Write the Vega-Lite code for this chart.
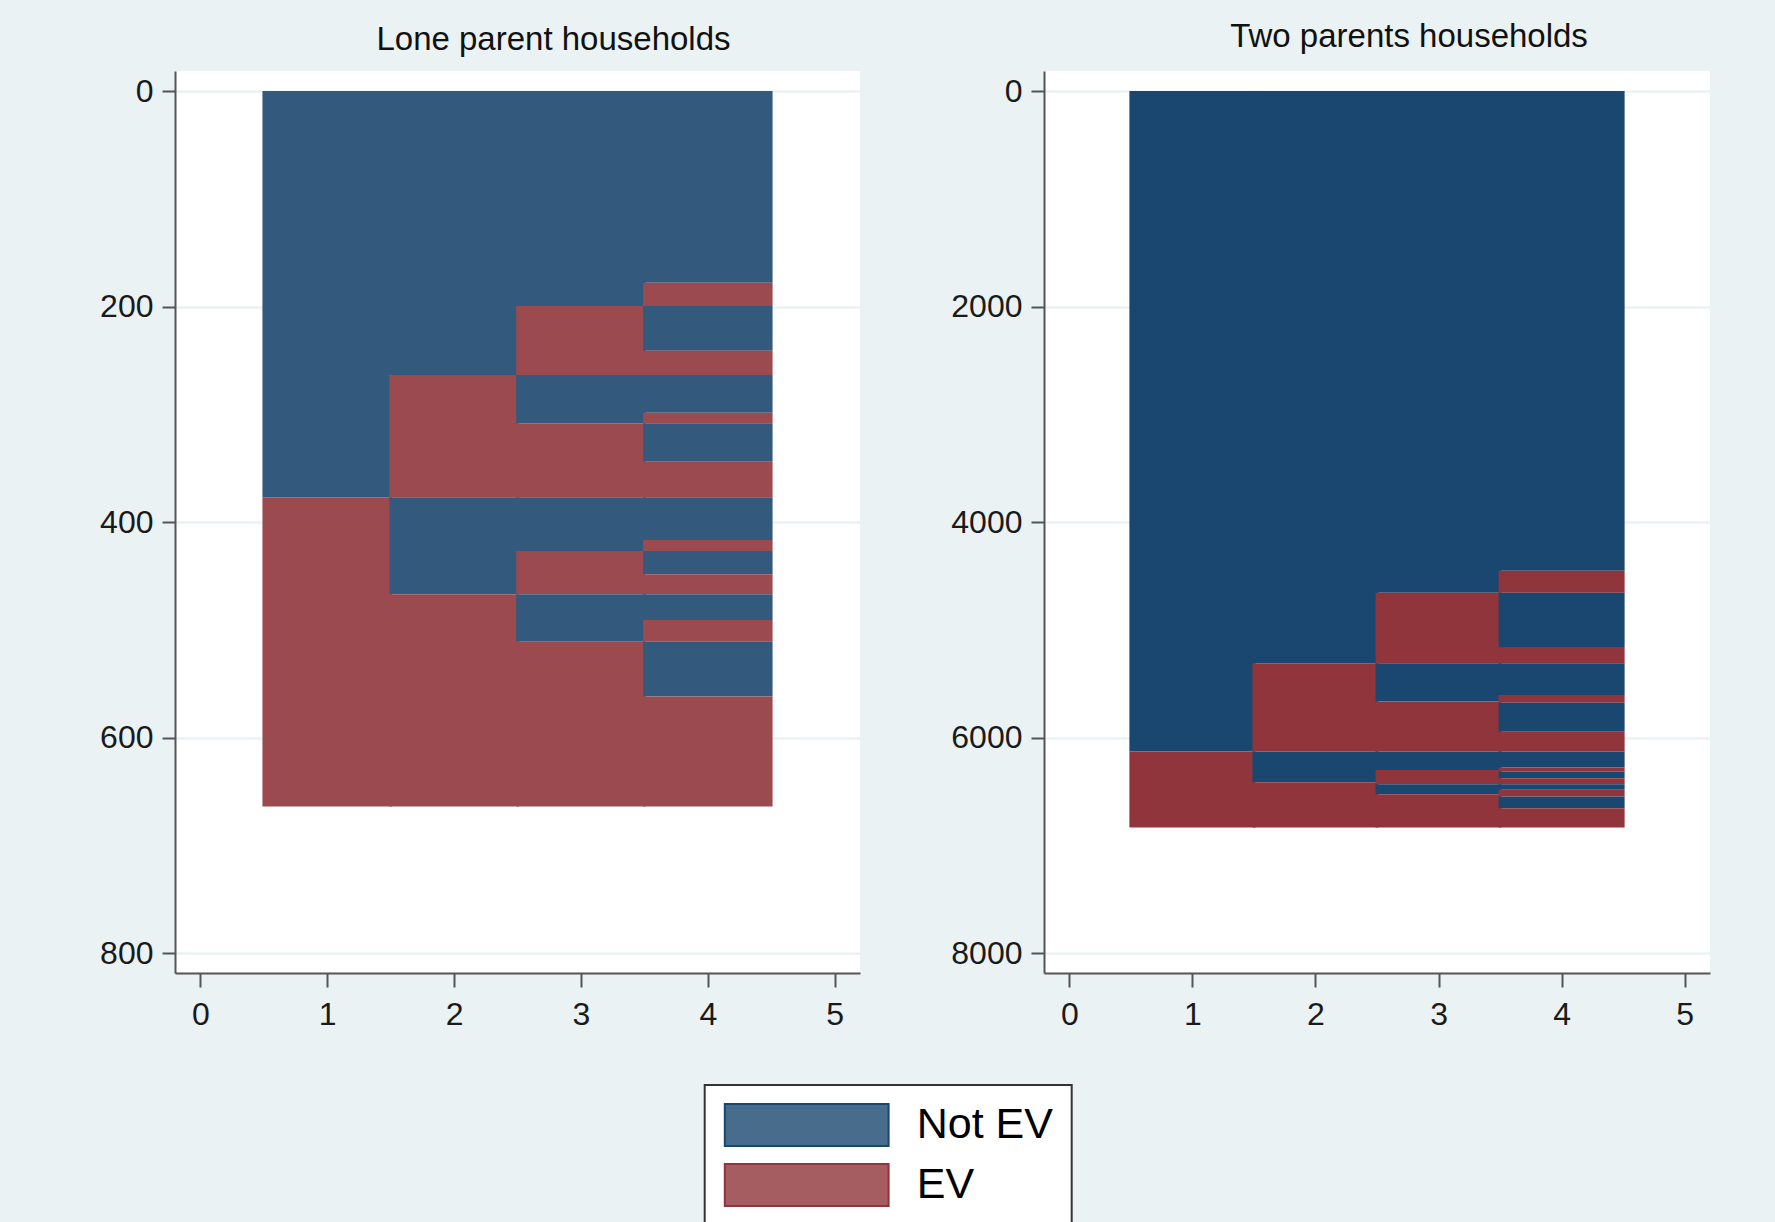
{
  "$schema": "https://vega.github.io/schema/vega-lite/v6.json",
  "background": "#eaf2f3",
  "padding": {"left": 99, "top": 21, "right": 66, "bottom": 10},
  "bounds": "flush",
  "spacing": 184,
  "datasets": {
    "lone": [
      {"wave": 1, "start": 0, "end": 377, "status": "Not EV"},
      {"wave": 1, "start": 377, "end": 664, "status": "EV"},
      {"wave": 2, "start": 0, "end": 263.5, "status": "Not EV"},
      {"wave": 2, "start": 263.5, "end": 377, "status": "EV"},
      {"wave": 2, "start": 377, "end": 467, "status": "Not EV"},
      {"wave": 2, "start": 467, "end": 664, "status": "EV"},
      {"wave": 3, "start": 0, "end": 199.5, "status": "Not EV"},
      {"wave": 3, "start": 199.5, "end": 263.5, "status": "EV"},
      {"wave": 3, "start": 263.5, "end": 308.4, "status": "Not EV"},
      {"wave": 3, "start": 308.4, "end": 377, "status": "EV"},
      {"wave": 3, "start": 377, "end": 426.8, "status": "Not EV"},
      {"wave": 3, "start": 426.8, "end": 467, "status": "EV"},
      {"wave": 3, "start": 467, "end": 511, "status": "Not EV"},
      {"wave": 3, "start": 511, "end": 664, "status": "EV"},
      {"wave": 4, "start": 0, "end": 178, "status": "Not EV"},
      {"wave": 4, "start": 178, "end": 199.5, "status": "EV"},
      {"wave": 4, "start": 199.5, "end": 241, "status": "Not EV"},
      {"wave": 4, "start": 241, "end": 263.5, "status": "EV"},
      {"wave": 4, "start": 263.5, "end": 298.5, "status": "Not EV"},
      {"wave": 4, "start": 298.5, "end": 308.4, "status": "EV"},
      {"wave": 4, "start": 308.4, "end": 344, "status": "Not EV"},
      {"wave": 4, "start": 344, "end": 377, "status": "EV"},
      {"wave": 4, "start": 377, "end": 416.6, "status": "Not EV"},
      {"wave": 4, "start": 416.6, "end": 426.8, "status": "EV"},
      {"wave": 4, "start": 426.8, "end": 448.5, "status": "Not EV"},
      {"wave": 4, "start": 448.5, "end": 467, "status": "EV"},
      {"wave": 4, "start": 467, "end": 490.8, "status": "Not EV"},
      {"wave": 4, "start": 490.8, "end": 511, "status": "EV"},
      {"wave": 4, "start": 511, "end": 562, "status": "Not EV"},
      {"wave": 4, "start": 562, "end": 664, "status": "EV"}
    ],
    "two": [
      {"wave": 1, "start": 0, "end": 6130, "status": "Not EV"},
      {"wave": 1, "start": 6130, "end": 6835, "status": "EV"},
      {"wave": 2, "start": 0, "end": 5311, "status": "Not EV"},
      {"wave": 2, "start": 5311, "end": 6130, "status": "EV"},
      {"wave": 2, "start": 6130, "end": 6415, "status": "Not EV"},
      {"wave": 2, "start": 6415, "end": 6835, "status": "EV"},
      {"wave": 3, "start": 0, "end": 4655, "status": "Not EV"},
      {"wave": 3, "start": 4655, "end": 5311, "status": "EV"},
      {"wave": 3, "start": 5311, "end": 5666, "status": "Not EV"},
      {"wave": 3, "start": 5666, "end": 6130, "status": "EV"},
      {"wave": 3, "start": 6130, "end": 6300, "status": "Not EV"},
      {"wave": 3, "start": 6300, "end": 6433, "status": "EV"},
      {"wave": 3, "start": 6433, "end": 6526, "status": "Not EV"},
      {"wave": 3, "start": 6526, "end": 6835, "status": "EV"},
      {"wave": 4, "start": 0, "end": 4453, "status": "Not EV"},
      {"wave": 4, "start": 4453, "end": 4655, "status": "EV"},
      {"wave": 4, "start": 4655, "end": 5159, "status": "Not EV"},
      {"wave": 4, "start": 5159, "end": 5311, "status": "EV"},
      {"wave": 4, "start": 5311, "end": 5604, "status": "Not EV"},
      {"wave": 4, "start": 5604, "end": 5676, "status": "EV"},
      {"wave": 4, "start": 5676, "end": 5945, "status": "Not EV"},
      {"wave": 4, "start": 5945, "end": 6130, "status": "EV"},
      {"wave": 4, "start": 6130, "end": 6278, "status": "Not EV"},
      {"wave": 4, "start": 6278, "end": 6316, "status": "EV"},
      {"wave": 4, "start": 6316, "end": 6378, "status": "Not EV"},
      {"wave": 4, "start": 6378, "end": 6433, "status": "EV"},
      {"wave": 4, "start": 6433, "end": 6485, "status": "Not EV"},
      {"wave": 4, "start": 6485, "end": 6548, "status": "EV"},
      {"wave": 4, "start": 6548, "end": 6656, "status": "Not EV"},
      {"wave": 4, "start": 6656, "end": 6835, "status": "EV"}
    ]
  },
  "config": {
    "font": "Liberation Sans",
    "view": {"fill": "white", "stroke": null},
    "axis": {
      "domainColor": "#555555",
      "domainWidth": 2,
      "tickColor": "#555555",
      "tickWidth": 2,
      "labelFontSize": 32,
      "labelColor": "#1a1a1a",
      "labelFont": "Liberation Sans",
      "title": null
    },
    "axisY": {"tickSize": 13, "labelPadding": 9, "grid": true, "gridColor": "#e6eff1", "gridWidth": 2, "labelAngle": 0},
    "axisX": {"tickSize": 14, "labelPadding": 12, "grid": false},
    "title": {"fontSize": 33, "fontWeight": "normal", "color": "#111111", "font": "Liberation Sans", "anchor": "middle"}
  },
  "resolve": {"scale": {"color": "independent", "y": "independent", "x": "independent"}},
  "hconcat": [
    {
      "width": 685,
      "height": 902,
      "title": {"text": "Lone parent households", "dx": 36, "offset": 14},
      "data": {"name": "lone"},
      "mark": {"type": "bar", "width": 129.5},
      "encoding": {
        "x": {"field": "wave", "type": "quantitative", "scale": {"domain": [-0.16, 5.16], "nice": false, "zero": false}, "axis": {"values": [0, 1, 2, 3, 4, 5], "format": "d"}},
        "y": {"field": "start", "type": "quantitative", "scale": {"domain": [-18.6, 818.5], "reverse": true, "nice": false, "zero": false}, "axis": {"values": [0, 200, 400, 600, 800], "format": "d"}},
        "y2": {"field": "end"},
        "color": {"field": "status", "type": "nominal", "scale": {"domain": ["Not EV", "EV"], "range": ["#335a7d", "#9b4a50"]}, "legend": null}
      }
    },
    {
      "width": 666,
      "height": 902,
      "title": {"text": "Two parents households", "dx": 32, "offset": 17},
      "data": {"name": "two"},
      "mark": {"type": "bar", "width": 126},
      "encoding": {
        "x": {"field": "wave", "type": "quantitative", "scale": {"domain": [-0.165, 5.165], "nice": false, "zero": false}, "axis": {"values": [0, 1, 2, 3, 4, 5], "format": "d"}},
        "y": {"field": "start", "type": "quantitative", "scale": {"domain": [-186, 8185], "reverse": true, "nice": false, "zero": false}, "axis": {"values": [0, 2000, 4000, 6000, 8000], "format": "d"}},
        "y2": {"field": "end"},
        "color": {
          "field": "status", "type": "nominal",
          "scale": {"domain": ["Not EV", "EV"], "range": ["#1a476f", "#90353b"]},
          "legend": {
            "orient": "none",
            "legendX": -339.3,
            "legendY": 1014,
            "title": null,
            "direction": "vertical",
            "symbolType": "M-3.9,-1H3.9V1H-3.9Z",
            "symbolSize": 1764,
            "symbolStrokeWidth": 2,
            "symbolOffset": 62,
            "labelFontSize": 43,
            "labelFont": "Liberation Sans",
            "labelColor": "#000000",
            "labelOffset": 88,
            "labelLimit": 400,
            "padding": 18,
            "rowPadding": 10,
            "fillColor": "white",
            "strokeColor": "#333333",
            "encode": {
              "symbols": {"update": {"fillOpacity": {"value": 0.8}, "stroke": {"signal": "datum.value == 'EV' ? '#90353b' : '#1a476f'"}, "strokeWidth": {"value": 2}}},
              "legend": {"update": {"strokeWidth": {"value": 2}}}
            }
          }
        }
      }
    }
  ]
}
